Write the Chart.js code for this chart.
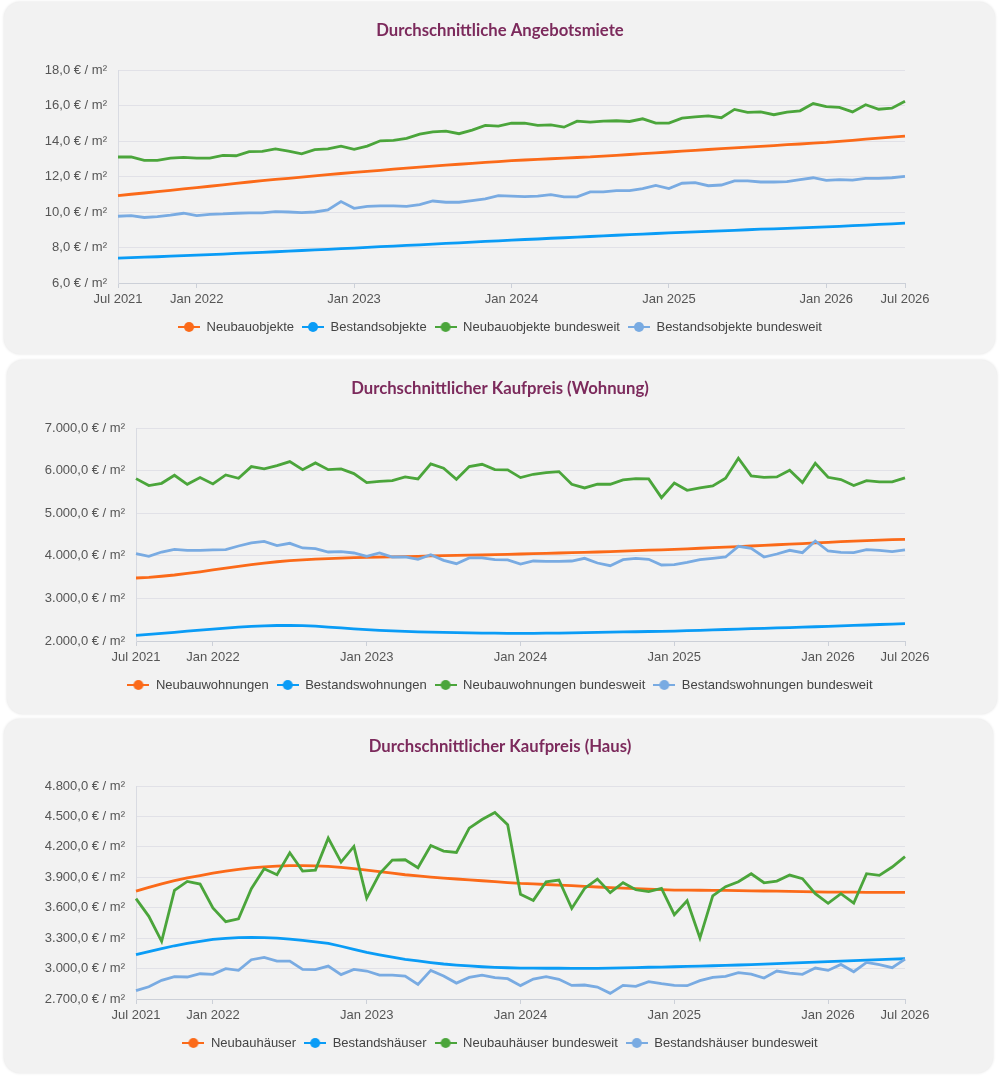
<!DOCTYPE html>
<html>
<head>
<meta charset="utf-8">
<script src="https://cdn.jsdelivr.net/npm/chart.js@4.4.1/dist/chart.umd.min.js"></script>
<style>
html,body{margin:0;padding:0;background:#ffffff;}
body{width:1000px;height:1076px;position:relative;overflow:hidden;}
.panel{position:absolute;background:#f2f2f2;border-radius:16px;box-shadow:0 0 3px rgba(0,0,0,0.13);}
canvas{position:absolute;left:0;}
</style>
</head>
<body>
<div class="panel" style="left:4px;top:2px;width:991px;height:352px"></div>
<div class="panel" style="left:7px;top:360px;width:990px;height:354px"></div>
<div class="panel" style="left:4px;top:719px;width:989px;height:354px"></div>
<canvas id="c1" width="1000" height="358" style="top:0px"></canvas>
<canvas id="c2" width="1000" height="358" style="top:358px"></canvas>
<canvas id="c3" width="1000" height="358" style="top:716px"></canvas>
<script>
// ---------- categories (monthly, Jul 2021 .. Jul 2026) ----------
const monthNames = ['Jan','Feb','Mär','Apr','Mai','Jun','Jul','Aug','Sep','Okt','Nov','Dez'];
const months = [];
for (let k = 0; k <= 60; k++) {
  const m = (6 + k) % 12, y = 2021 + Math.floor((6 + k) / 12);
  months.push(monthNames[m] + ' ' + y);
}
const xTickLabels = ['Jul 2021','Jan 2022','Jan 2023','Jan 2024','Jan 2025','Jan 2026','Jul 2026'];

// ---------- Chart 1: Durchschnittliche Angebotsmiete ----------
const title1 = 'Durchschnittliche Angebotsmiete';
const names1 = ['Neubauobjekte','Bestandsobjekte','Neubauobjekte bundesweit','Bestandsobjekte bundesweit'];
const neubauMiete = [10.92,11.00,11.07,11.15,11.22,11.30,11.37,11.45,11.53,11.61,11.69,11.77,11.84,11.90,11.97,12.03,12.10,12.17,12.23,12.29,12.35,12.41,12.47,12.53,12.59,12.64,12.69,12.74,12.79,12.84,12.89,12.93,12.96,13.00,13.03,13.07,13.10,13.15,13.19,13.24,13.29,13.33,13.38,13.43,13.47,13.52,13.57,13.61,13.66,13.70,13.74,13.79,13.83,13.88,13.92,13.98,14.04,14.10,14.16,14.22,14.28];
const bestandMiete = [7.40,7.43,7.46,7.48,7.51,7.54,7.57,7.60,7.63,7.67,7.70,7.73,7.76,7.80,7.83,7.87,7.90,7.94,7.97,8.01,8.05,8.08,8.12,8.15,8.19,8.23,8.26,8.30,8.34,8.37,8.41,8.45,8.48,8.52,8.55,8.59,8.62,8.65,8.69,8.72,8.75,8.79,8.82,8.85,8.88,8.91,8.94,8.97,9.00,9.03,9.05,9.08,9.11,9.13,9.16,9.19,9.23,9.26,9.30,9.33,9.37];
const neubauMieteBund = [13.10,13.10,12.91,12.91,13.04,13.08,13.04,13.04,13.19,13.17,13.40,13.41,13.55,13.43,13.28,13.51,13.56,13.71,13.53,13.71,14.01,14.03,14.15,14.39,14.52,14.56,14.41,14.61,14.88,14.84,15.00,15.01,14.88,14.91,14.78,15.12,15.06,15.12,15.14,15.10,15.25,15.01,15.01,15.29,15.36,15.42,15.31,15.78,15.61,15.64,15.48,15.63,15.70,16.11,15.94,15.89,15.64,16.04,15.79,15.85,16.24];
const bestandMieteBund = [9.76,9.80,9.69,9.74,9.82,9.93,9.80,9.87,9.89,9.93,9.95,9.95,10.02,10.00,9.97,10.00,10.12,10.59,10.21,10.32,10.34,10.34,10.32,10.42,10.62,10.55,10.55,10.64,10.74,10.92,10.90,10.87,10.90,10.98,10.85,10.85,11.13,11.13,11.20,11.20,11.32,11.50,11.32,11.62,11.65,11.48,11.52,11.75,11.75,11.69,11.69,11.71,11.82,11.93,11.78,11.82,11.80,11.90,11.90,11.93,12.01];
const yAxis1 = {min: 6, max: 18, step: 2};

// ---------- Chart 2: Durchschnittlicher Kaufpreis (Wohnung) ----------
const title2 = 'Durchschnittlicher Kaufpreis (Wohnung)';
const names2 = ['Neubauwohnungen','Bestandswohnungen','Neubauwohnungen bundesweit','Bestandswohnungen bundesweit'];
const neubauWohnung = [3479,3495,3520,3549,3585,3625,3667,3710,3752,3792,3828,3860,3886,3904,3920,3933,3944,3955,3964,3970,3975,3980,3988,3996,4003,4008,4014,4019,4027,4034,4042,4050,4058,4066,4074,4081,4089,4099,4110,4120,4131,4141,4152,4164,4177,4190,4203,4217,4230,4244,4259,4273,4288,4302,4317,4331,4345,4358,4370,4380,4387];
const bestandWohnung = [2132,2155,2179,2202,2230,2256,2281,2303,2324,2343,2356,2364,2367,2362,2348,2328,2306,2285,2265,2250,2237,2226,2216,2208,2202,2196,2191,2187,2183,2181,2179,2180,2183,2187,2192,2197,2202,2207,2212,2217,2223,2228,2234,2242,2251,2260,2270,2280,2289,2298,2307,2316,2325,2334,2343,2354,2365,2376,2387,2398,2410];
const neubauWohnungBund = [5812,5648,5702,5890,5679,5836,5687,5898,5820,6094,6039,6117,6211,6023,6180,6023,6039,5930,5718,5749,5765,5851,5804,6157,6055,5796,6094,6149,6023,6016,5836,5914,5953,5977,5679,5593,5679,5679,5781,5812,5804,5366,5710,5538,5593,5640,5820,6290,5875,5843,5851,6008,5718,6172,5843,5789,5648,5765,5734,5734,5828];
const bestandWohnungBund = [4050,3988,4089,4152,4129,4129,4137,4144,4230,4301,4340,4238,4293,4184,4168,4089,4097,4066,3988,4066,3972,3972,3917,4027,3894,3815,3949,3949,3909,3902,3804,3878,3870,3870,3878,3941,3831,3768,3909,3941,3917,3784,3792,3847,3909,3941,3972,4223,4176,3972,4042,4129,4074,4348,4113,4082,4074,4144,4129,4097,4137];
const yAxis2 = {min: 2000, max: 7000, step: 1000};

// ---------- Chart 3: Durchschnittlicher Kaufpreis (Haus) ----------
const title3 = 'Durchschnittlicher Kaufpreis (Haus)';
const names3 = ['Neubauhäuser','Bestandshäuser','Neubauhäuser bundesweit','Bestandshäuser bundesweit'];
const neubauHaus = [3764,3800,3835,3866,3893,3917,3940,3960,3978,3993,4003,4010,4014,4015,4012,4007,3998,3985,3971,3955,3940,3925,3913,3902,3892,3883,3875,3866,3857,3848,3840,3835,3829,3823,3817,3810,3804,3799,3794,3789,3784,3779,3774,3773,3772,3771,3770,3769,3767,3765,3763,3761,3759,3756,3754,3753,3753,3752,3752,3751,3751];
const bestandHaus = [3137,3167,3196,3225,3248,3269,3288,3298,3305,3308,3306,3300,3291,3278,3264,3248,3220,3190,3160,3136,3113,3091,3075,3059,3045,3035,3026,3018,3012,3008,3005,3004,3003,3003,3002,3002,3002,3004,3007,3010,3013,3015,3018,3021,3025,3028,3031,3035,3038,3043,3048,3053,3058,3063,3068,3073,3078,3083,3088,3093,3097];
const neubauHausBund = [3689,3515,3268,3771,3859,3833,3597,3462,3491,3787,3984,3925,4142,3961,3971,4286,4050,4204,3695,3935,4070,4073,3994,4214,4158,4145,4385,4470,4539,4418,3733,3672,3856,3873,3593,3790,3882,3748,3846,3777,3758,3790,3531,3669,3301,3718,3807,3856,3935,3846,3863,3922,3886,3738,3643,3738,3646,3935,3919,4001,4103];
const bestandHausBund = [2782,2821,2884,2920,2917,2949,2943,2999,2982,3087,3110,3074,3074,2992,2989,3025,2940,2992,2976,2936,2936,2926,2844,2982,2926,2857,2913,2936,2910,2900,2832,2897,2920,2894,2834,2838,2818,2756,2834,2825,2871,2851,2834,2831,2881,2913,2923,2959,2946,2907,2976,2956,2943,3005,2982,3041,2969,3061,3038,3009,3094];
const yAxis3 = {min: 2700, max: 4800, step: 300};

// ---------- styling ----------
const colors = ['#fb6a19', '#0a9cf6', '#4ba53b', '#79abe2'];
const FONT = "'Liberation Sans', Arial, sans-serif";

function fmtDE(v) {
  const neg = v < 0; v = Math.abs(v);
  const fixed = v.toFixed(1);
  let [intPart, dec] = fixed.split('.');
  intPart = intPart.replace(/\B(?=(\d{3})+(?!\d))/g, '.');
  return (neg ? '-' : '') + intPart + ',' + dec + ' € / m²';
}

function makeIcon(color) {
  const c = document.createElement('canvas');
  c.width = 22; c.height = 12;
  const g = c.getContext('2d');
  g.strokeStyle = color; g.lineWidth = 2;
  g.beginPath(); g.moveTo(0, 6); g.lineTo(22, 6); g.stroke();
  g.fillStyle = color;
  g.beginPath(); g.arc(11, 6, 5, 0, Math.PI * 2); g.fill();
  return c;
}
const icons = colors.map(makeIcon);

function build(id, title, names, series, yAx, leftW) {
  const datasets = series.map((d, i) => ({
    label: names[i],
    data: d,
    borderColor: colors[i],
    backgroundColor: colors[i],
    borderWidth: 2.8,
    pointRadius: 0,
    pointHoverRadius: 0,
    tension: 0,
    fill: false,
    order: 4 - i
  }));
  new Chart(document.getElementById(id), {
    type: 'line',
    data: { labels: months, datasets },
    options: {
      responsive: false,
      animation: false,
      events: [],
      layout: { padding: { left: 0, right: 0, top: 0, bottom: 14.5 } },
      plugins: {
        tooltip: { enabled: false },
        title: {
          display: true, text: title, color: '#7c2a5c',
          font: { family: 'Lato', size: 16.7, weight: 'bold' },
          padding: { top: 20.98, bottom: 28.98 }
        },
        legend: {
          position: 'bottom',
          labels: {
            usePointStyle: true, pointStyleWidth: 22, boxHeight: 13,
            padding: 8, color: '#444',
            font: { family: FONT, size: 13 },
            sort: (a, b) => a.datasetIndex - b.datasetIndex,
            generateLabels(chart) {
              const items = Chart.defaults.plugins.legend.labels.generateLabels(chart);
              items.forEach(it => { it.pointStyle = icons[it.datasetIndex]; it.fontColor = '#444'; });
              return items;
            }
          }
        }
      },
      scales: {
        x: {
          type: 'category',
          offset: false,
          grid: {
            display: true, drawOnChartArea: false, drawTicks: true, tickLength: 5,
            color: ctx => (xTickLabels.includes(months[ctx.index]) ? '#ccd0d8' : 'rgba(0,0,0,0)')
          },
          border: { display: true, color: '#ccd0d8', width: 1 },
          ticks: {
            autoSkip: false, maxRotation: 0, minRotation: 0, padding: 4,
            color: '#555', font: { family: FONT, size: 13 },
            callback: (v, idx) => (xTickLabels.includes(months[idx]) ? months[idx] : '')
          },
          afterFit: s => { s.height = 29.5; }
        },
        y: {
          position: 'left',
          min: yAx.min, max: yAx.max,
          grid: { color: '#e1e1e7', lineWidth: 1, drawTicks: false },
          border: { display: true, color: '#d9dbe2', width: 1 },
          ticks: {
            stepSize: yAx.step, padding: 11, color: '#555',
            font: { family: FONT, size: 13 },
            callback: v => fmtDE(v)
          },
          afterFit: s => { s.width = leftW; }
        },
        yR: {
          position: 'right', display: true,
          grid: { display: false, drawTicks: false },
          border: { display: false },
          ticks: { display: false },
          afterFit: s => { s.width = 95; }
        }
      }
    }
  });
}

build('c1', title1, names1, [neubauMiete, bestandMiete, neubauMieteBund, bestandMieteBund], yAxis1, 118);
build('c2', title2, names2, [neubauWohnung, bestandWohnung, neubauWohnungBund, bestandWohnungBund], yAxis2, 136);
build('c3', title3, names3, [neubauHaus, bestandHaus, neubauHausBund, bestandHausBund], yAxis3, 136);
</script>
</body>
</html>
